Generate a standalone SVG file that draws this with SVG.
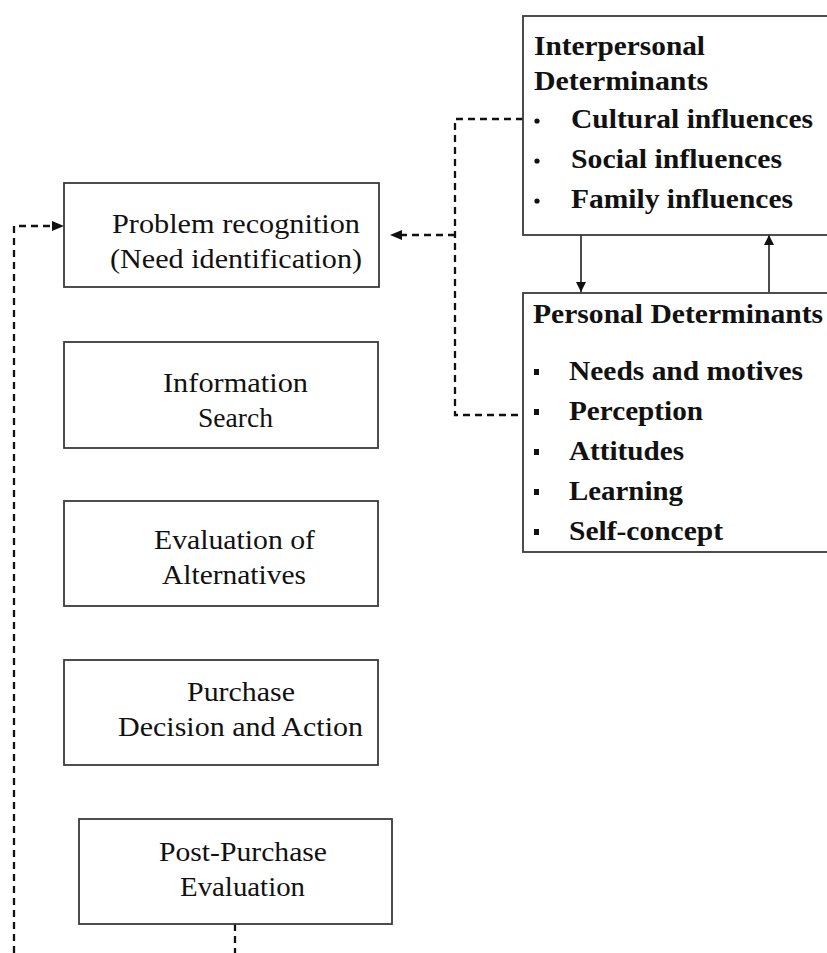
<svg xmlns="http://www.w3.org/2000/svg" width="827" height="953" viewBox="0 0 827 953">
<style>
.box{fill:#fff;stroke:#3a3a3a;stroke-width:1.8}
.t{font-family:"Liberation Serif","Times New Roman",serif;font-size:27px;fill:#111}
.b{font-family:"Liberation Serif","Times New Roman",serif;font-size:27px;font-weight:bold;fill:#111}
.dash{fill:none;stroke:#111;stroke-width:2.3;stroke-dasharray:7 5}
.solid{fill:none;stroke:#111;stroke-width:1.5}
</style>
<defs>
<marker id="ah" viewBox="0 0 10 10" refX="10" refY="5" markerWidth="10" markerHeight="10" markerUnits="userSpaceOnUse" orient="auto">
<path d="M0,0 L10,5 L0,10 Z" fill="#111"/>
</marker>
</defs>
<rect width="827" height="953" fill="#fff"/>
<g id="connectors">
<path class="dash" d="M14,953 V226 H55"/>
<path d="M52,221 L64,226 L52,231 Z" fill="#111"/>
<path class="dash" d="M235,924 V953"/>
<path class="dash" d="M523,119 H455 V415 H523"/>
<path class="dash" d="M455,235 H398"/>
<path d="M402,230 L390,235 L402,240 Z" fill="#111"/>
<line class="solid" x1="581" y1="235" x2="581" y2="292" marker-end="url(#ah)"/>
<line class="solid" x1="769" y1="292" x2="769" y2="235" marker-end="url(#ah)"/>
</g>
<g id="problem">
<rect class="box" x="64" y="183" width="315" height="104"/>
<text class="t" x="236" y="233" text-anchor="middle" textLength="248" lengthAdjust="spacingAndGlyphs">Problem recognition</text>
<text class="t" x="236" y="268" text-anchor="middle" textLength="252" lengthAdjust="spacingAndGlyphs">(Need identification)</text>
</g>
<g id="info">
<rect class="box" x="64" y="342" width="314" height="106"/>
<text class="t" x="235.5" y="392" text-anchor="middle" textLength="145" lengthAdjust="spacingAndGlyphs">Information</text>
<text class="t" x="235.5" y="427" text-anchor="middle" textLength="75" lengthAdjust="spacingAndGlyphs">Search</text>
</g>
<g id="evaluation">
<rect class="box" x="64" y="501" width="314" height="105"/>
<text class="t" x="234.5" y="549" text-anchor="middle" textLength="161" lengthAdjust="spacingAndGlyphs">Evaluation of</text>
<text class="t" x="234" y="584" text-anchor="middle" textLength="144" lengthAdjust="spacingAndGlyphs">Alternatives</text>
</g>
<g id="purchase">
<rect class="box" x="64" y="660" width="314" height="105"/>
<text class="t" x="241" y="701" text-anchor="middle" textLength="108" lengthAdjust="spacingAndGlyphs">Purchase</text>
<text class="t" x="240.5" y="736" text-anchor="middle" textLength="245" lengthAdjust="spacingAndGlyphs">Decision and Action</text>
</g>
<g id="post">
<rect class="box" x="79" y="819" width="313" height="105"/>
<text class="t" x="243" y="861" text-anchor="middle" textLength="168" lengthAdjust="spacingAndGlyphs">Post-Purchase</text>
<text class="t" x="242.5" y="896" text-anchor="middle" textLength="125" lengthAdjust="spacingAndGlyphs">Evaluation</text>
</g>
<g id="interpersonal">
<rect class="box" x="523" y="16" width="320" height="219"/>
<text class="b" x="534" y="55" textLength="171" lengthAdjust="spacingAndGlyphs">Interpersonal</text>
<text class="b" x="534" y="90" textLength="174" lengthAdjust="spacingAndGlyphs">Determinants</text>
<circle cx="537" cy="121" r="2.6" fill="#111"/>
<circle cx="537" cy="161" r="2.6" fill="#111"/>
<circle cx="537" cy="201" r="2.6" fill="#111"/>
<text class="b" x="571" y="128" textLength="242" lengthAdjust="spacingAndGlyphs">Cultural influences</text>
<text class="b" x="571" y="168" textLength="211" lengthAdjust="spacingAndGlyphs">Social influences</text>
<text class="b" x="571" y="208" textLength="222" lengthAdjust="spacingAndGlyphs">Family influences</text>
</g>
<g id="personal">
<rect class="box" x="523" y="293" width="320" height="259"/>
<text class="b" x="533" y="323" textLength="290" lengthAdjust="spacingAndGlyphs">Personal Determinants</text>
<rect x="534" y="369" width="5" height="6" fill="#111"/>
<rect x="534" y="409" width="5" height="6" fill="#111"/>
<rect x="534" y="449" width="5" height="6" fill="#111"/>
<rect x="534" y="489" width="5" height="6" fill="#111"/>
<rect x="534" y="529" width="5" height="6" fill="#111"/>
<text class="b" x="569" y="380" textLength="234" lengthAdjust="spacingAndGlyphs">Needs and motives</text>
<text class="b" x="569" y="420" textLength="134" lengthAdjust="spacingAndGlyphs">Perception</text>
<text class="b" x="569" y="460" textLength="115" lengthAdjust="spacingAndGlyphs">Attitudes</text>
<text class="b" x="569" y="500" textLength="114" lengthAdjust="spacingAndGlyphs">Learning</text>
<text class="b" x="569" y="540" textLength="154" lengthAdjust="spacingAndGlyphs">Self-concept</text>
</g>
</svg>
